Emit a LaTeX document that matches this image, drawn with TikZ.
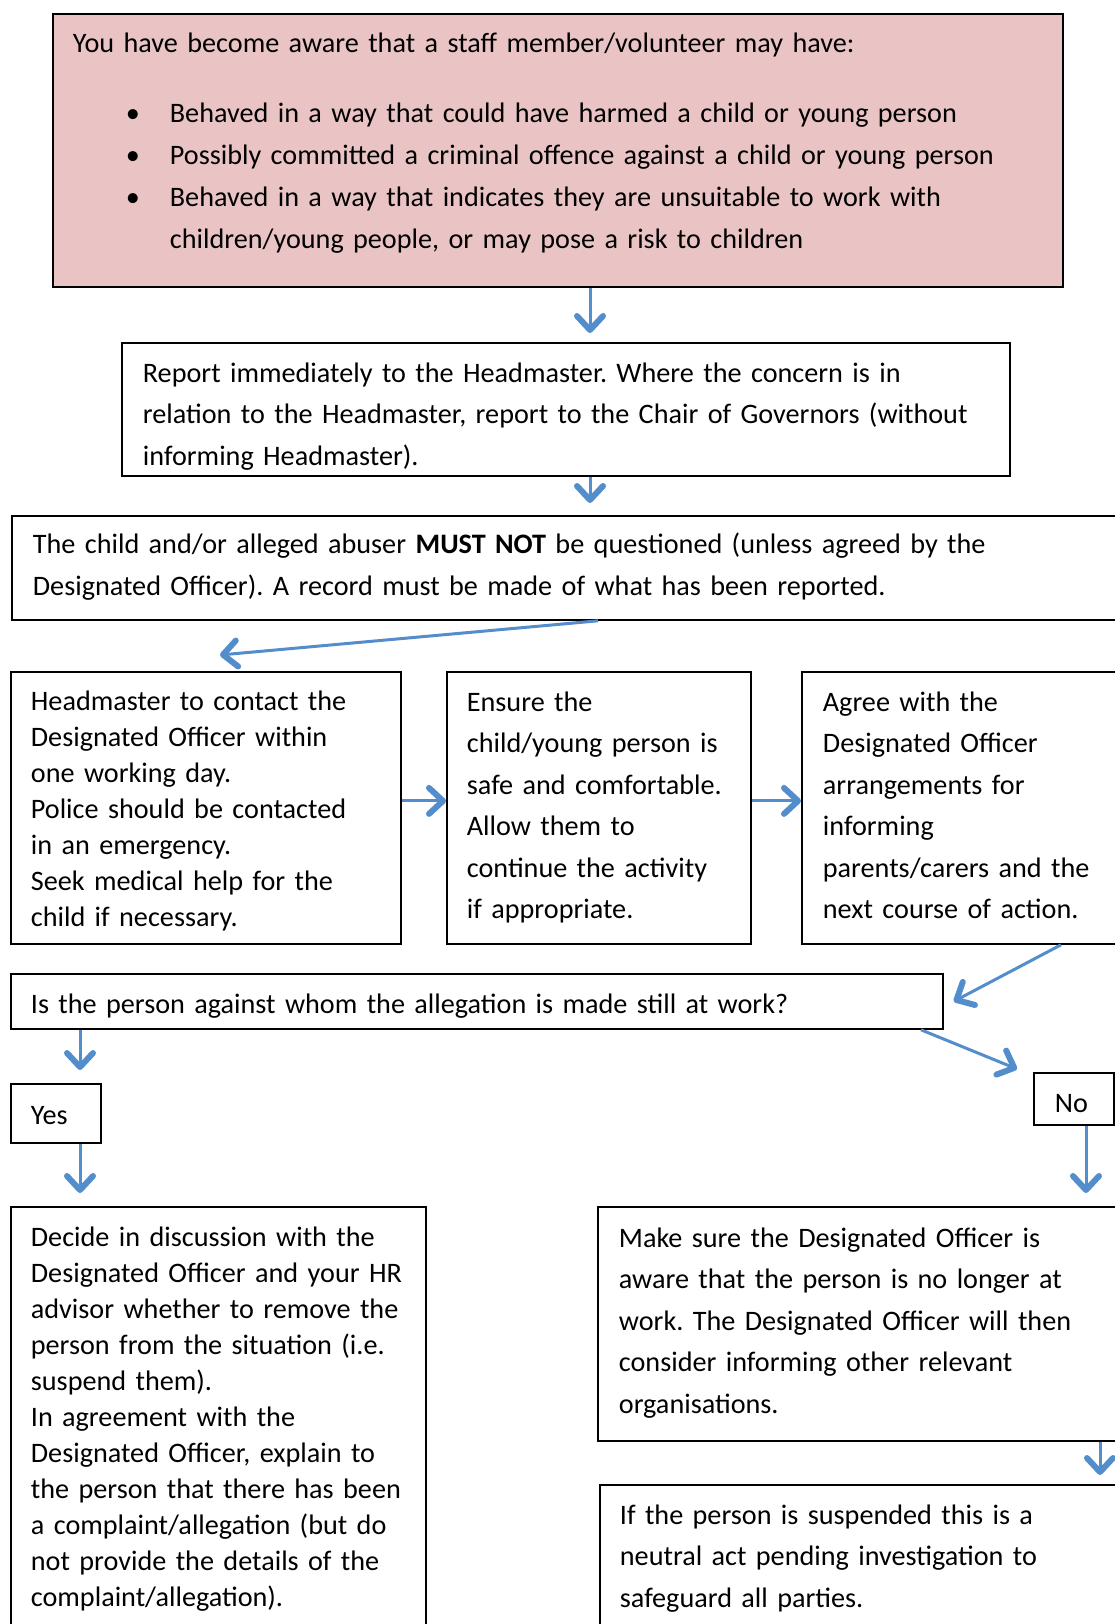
\documentclass[tikz,border=0pt]{standalone}
\usepackage{fontspec}
\setmainfont{Carlito}
\usetikzlibrary{arrows.meta,calc}
\definecolor{flowblue}{RGB}{84,141,203}
\definecolor{alertpink}{RGB}{234,196,196}

\begin{document}
\frenchspacing
\begin{tikzpicture}[x=1pt,y=-1pt,
    box/.style = {draw,line width=1.8pt,anchor=north west,inner ysep=0pt,align=left,
                  text height=39.5pt,font=\fontsize{28.2}{41.4}\selectfont},
    tight/.style = {font=\fontsize{28.2}{36}\selectfont},
    flow/.style = {flowblue,line width=3pt,
                   -{Straight Barb[length=14pt,width=26pt,line width=6pt,round]}}]
    \useasboundingbox (0,0) rectangle (1115,1624);

    % boxes
    \node[box,fill=alertpink,font=\fontsize{28.2}{42}\selectfont,text height=39pt,
          inner xsep=20pt,text width=970pt,text depth=234pt] (aware) at (52,13)
        {You have become aware that a staff member/volunteer may have:\\[28pt]
         \hspace*{53pt}\makebox[44pt][l]{•}Behaved in a way that could have harmed a child or young person\\
         \hspace*{53pt}\makebox[44pt][l]{•}Possibly committed a criminal offence against a child or young person\\
         \hspace*{53pt}\makebox[44pt][l]{•}Behaved in a way that indicates they are unsuitable to work with\\
         \hspace*{97pt}children/young people, or may pose a risk to children};
    \node[box,inner xsep=21pt,text width=846pt,text depth=93.5pt] (report) at (121,342)
        {Report immediately to the Headmaster. Where the concern is in\\
         relation to the Headmaster, report to the Chair of Governors (without\\
         informing Headmaster).};
    \node[box,text height=38pt,inner xsep=21pt,text width=1077pt,text depth=66pt] (child) at (11,515)
        {The child and/or alleged abuser \textbf{MUST NOT} be questioned (unless agreed by the\\
         Designated Officer). A record must be made of what has been reported.};
    \node[box,tight,text height=38.5pt,inner xsep=20pt,text width=350pt,text depth=233.5pt] (headmaster) at (10,671)
        {Headmaster to contact the\\ Designated Officer within\\ one working day.\\
         Police should be contacted\\ in an emergency.\\ Seek medical help for the\\
         child if necessary.};
    \node[box,inner xsep=20pt,text width=264pt,text depth=232.5pt] (ensure) at (446,671)
        {Ensure the\\ child/young person is\\ safe and comfortable.\\ Allow them to\\
         continue the activity\\ if appropriate.};
    \node[box,inner xsep=21pt,text width=287pt,text depth=232.5pt] (agree) at (801,671)
        {Agree with the\\ Designated Officer\\ arrangements for\\ informing\\
         parents/carers and the\\ next course of action.};
    \node[box,inner xsep=20pt,text width=892pt,text depth=15.5pt] (atwork) at (10,973)
        {Is the person against whom the allegation is made still at work?};
    \node[box,text height=40.5pt,inner xsep=20pt,text width=50pt,text depth=18.5pt] (yes) at (10,1083) {Yes};
    \node[box,inner xsep=21pt,text width=38pt,text depth=12.5pt] (no) at (1033,1072) {No};
    \node[box,tight,inner xsep=20pt,text width=375pt,text depth=384.5pt] (decide) at (10,1206)
        {Decide in discussion with the\\ Designated Officer and your HR\\
         advisor whether to remove the\\ person from the situation (i.e.\\ suspend them).\\
         In agreement with the\\ Designated Officer, explain to\\
         the person that there has been\\ a complaint/allegation (but do\\
         not provide the details of the\\ complaint/allegation).};
    \node[box,text height=40.5pt,inner xsep=21pt,text width=491pt,text depth=193.5pt] (notatwork) at (597,1206)
        {Make sure the Designated Officer is\\ aware that the person is no longer at\\
         work. The Designated Officer will then\\ consider informing other relevant\\
         organisations.};
    \node[box,inner xsep=20pt,text width=491pt,text depth=104.5pt] (suspended) at (599,1484)
        {If the person is suspended this is a\\ neutral act pending investigation to\\
         safeguard all parties.};

    % connectors
    \coordinate (tipA) at (590,333);
    \coordinate (tipB) at (590,503);
    \coordinate (fromC) at (598,0);
    \coordinate (tipC) at (220,655);
    \coordinate (fromF) at (1061,0);
    \coordinate (tipG) at (80,1070);
    \coordinate (tipH) at (80,1193);
    \coordinate (fromI) at (921,0);
    \coordinate (tipI) at (1017,1069);
    \coordinate (tipJ) at (1086,1193);
    \coordinate (tipK) at (1100,1475);
    \draw[flow] (tipA |- aware.south) -- (tipA);
    \draw[flow] (tipB |- report.south) -- (tipB);
    \draw[flow] (fromC |- child.south) -- (tipC);
    \draw[flow] ([yshift=7pt]headmaster.east) -- ([yshift=7pt]ensure.west);
    \draw[flow] ([yshift=7pt]ensure.east) -- ([yshift=7pt]agree.west);
    \draw[flow] (fromF |- agree.south) -- ($(atwork.east)+(10,0)$);
    \draw[flow] (tipG |- atwork.south) -- (tipG);
    \draw[flow] (tipH |- yes.south) -- (tipH);
    \draw[flow] (fromI |- atwork.south) -- (tipI);
    \draw[flow] (tipJ |- no.south) -- (tipJ);
    \draw[flow] (tipK |- notatwork.south) -- (tipK);
\end{tikzpicture}
\end{document}
